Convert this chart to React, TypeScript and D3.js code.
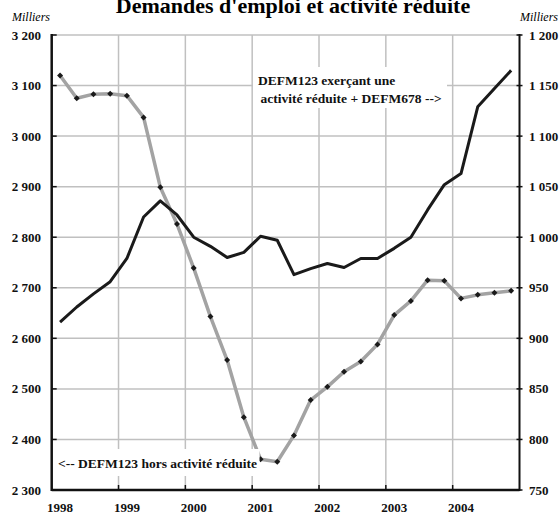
import React, { useEffect, useRef } from 'react';
import * as d3 from 'd3';

// Quarterly categories, 1998 to 2004
const quarters = [
    '1998T1', '1998T2', '1998T3', '1998T4',
    '1999T1', '1999T2', '1999T3', '1999T4',
    '2000T1', '2000T2', '2000T3', '2000T4',
    '2001T1', '2001T2', '2001T3', '2001T4',
    '2002T1', '2002T2', '2002T3', '2002T4',
    '2003T1', '2003T2', '2003T3', '2003T4',
    '2004T1', '2004T2', '2004T3', '2004T4',
];
const yearLabels = ['1998', '1999', '2000', '2001', '2002', '2003', '2004'];

// DEFM123 hors activité réduite (left axis, milliers)
const horsActivite = [
    3120, 3075, 3083, 3084, 3080, 3037, 2899, 2826,
    2739, 2643, 2557, 2444, 2361, 2356, 2408, 2478,
    2504, 2534, 2554, 2588, 2646, 2674, 2715, 2714,
    2679, 2686, 2690, 2694,
];

// DEFM123 exerçant une activité réduite + DEFM678 (right axis, milliers)
const activiteReduite = [
    916, 931, 944, 956, 979, 1020, 1036, 1022,
    1000, 991, 980, 985, 1001, 997, 963, 969,
    974, 970, 979, 979, 989, 1000, 1027, 1052,
    1063, 1129, 1147, 1165,
];

const leftTicks = [2300, 2400, 2500, 2600, 2700, 2800, 2900, 3000, 3100, 3200];
const rightTicks = [750, 800, 850, 900, 950, 1000, 1050, 1100, 1150, 1200];

const W = 559;
const H = 515;
const FONT = '"Liberation Serif", "Times New Roman", serif';

const App = () => {
    const ref = useRef<SVGSVGElement>(null);

    useEffect(() => {
        document.body.style.margin = '0';
        const svg = d3.select(ref.current);
        svg.selectAll('*').remove();

        const left = 51.7, right = 519.5, top = 35, bottom = 490;

        const fmt = d3.formatLocale({ decimal: ',', thousands: ' ', grouping: [3], currency: ['', ' €'] }).format(',d');

        const x = d3.scaleBand().domain(quarters).range([left, right]).paddingInner(0).paddingOuter(0);
        const yL = d3.scaleLinear().domain([2300, 3200]).range([bottom, top]);
        const yR = d3.scaleLinear().domain([750, 1200]).range([bottom, top]);

        // title (partly cut off at the top, as in the source)
        svg.append('text')
            .attr('x', 293).attr('y', 13)
            .attr('text-anchor', 'middle')
            .style('font-family', FONT).style('font-weight', 'bold').style('font-size', '22px')
            .text("Demandes d'emploi et activité réduite");

        svg.append('text')
            .attr('x', 12).attr('y', 21)
            .style('font-family', FONT).style('font-style', 'italic').style('font-size', '12px')
            .text('Milliers');
        svg.append('text')
            .attr('x', 520).attr('y', 21)
            .style('font-family', FONT).style('font-style', 'italic').style('font-size', '12px')
            .text('Milliers');

        // grid
        const grid = svg.append('g').attr('stroke', '#c0c0c0').attr('stroke-width', 1.5);
        grid.selectAll('line.h')
            .data(leftTicks.slice(1))
            .enter().append('line')
            .attr('x1', left).attr('x2', right)
            .attr('y1', d => yL(d)).attr('y2', d => yL(d));
        grid.selectAll('line.v')
            .data(yearLabels.slice(1))
            .enter().append('line')
            .attr('x1', d => x(d + 'T1')).attr('x2', d => x(d + 'T1'))
            .attr('y1', top).attr('y2', bottom);

        // series
        const lineL = d3.line<number>()
            .x((d, i) => x(quarters[i]) + x.bandwidth() / 2)
            .y(d => yL(d));
        const lineR = d3.line<number>()
            .x((d, i) => x(quarters[i]) + x.bandwidth() / 2)
            .y(d => yR(d));

        svg.append('path')
            .datum(horsActivite)
            .attr('d', lineL)
            .attr('fill', 'none')
            .attr('stroke', '#a3a3a3')
            .attr('stroke-width', 3.5)
            .attr('stroke-linejoin', 'round');

        svg.append('g').selectAll('path')
            .data(horsActivite)
            .enter().append('path')
            .attr('d', d3.symbol().type(d3.symbolSquare).size(18))
            .attr('transform', (d, i) => `translate(${x(quarters[i]) + x.bandwidth() / 2},${yL(d)}) rotate(45)`)
            .attr('fill', '#1a1a1a');

        svg.append('path')
            .datum(activiteReduite)
            .attr('d', lineR)
            .attr('fill', 'none')
            .attr('stroke', '#1a1a1a')
            .attr('stroke-width', 3)
            .attr('stroke-linejoin', 'round');

        // axes
        const axes = svg.append('g').attr('stroke', '#111');
        axes.append('line').attr('x1', left).attr('x2', left).attr('y1', top - 1).attr('y2', bottom + 1).attr('stroke-width', 2.5);
        axes.append('line').attr('x1', right).attr('x2', right).attr('y1', top - 1).attr('y2', bottom + 1).attr('stroke-width', 2);
        axes.append('line').attr('x1', left).attr('x2', right).attr('y1', bottom).attr('y2', bottom).attr('stroke-width', 2.5);

        axes.selectAll('line.lt')
            .data(leftTicks)
            .enter().append('line')
            .attr('x1', left).attr('x2', left + 5)
            .attr('y1', d => yL(d)).attr('y2', d => yL(d))
            .attr('stroke-width', 1.5);
        axes.selectAll('line.rt')
            .data(rightTicks)
            .enter().append('line')
            .attr('x1', right - 3).attr('x2', right + 3)
            .attr('y1', d => yR(d)).attr('y2', d => yR(d))
            .attr('stroke-width', 1.5);
        axes.selectAll('line.bt')
            .data(yearLabels.slice(1))
            .enter().append('line')
            .attr('x1', d => x(d + 'T1')).attr('x2', d => x(d + 'T1'))
            .attr('y1', bottom - 5).attr('y2', bottom)
            .attr('stroke-width', 1.5);

        const tickText = (sel) => sel
            .style('font-family', FONT).style('font-weight', 'bold').style('font-size', '13px')
            .attr('fill', '#111');

        svg.append('g').selectAll('text')
            .data(leftTicks)
            .enter().append('text')
            .attr('x', 41).attr('y', d => yL(d) + 4.5)
            .attr('text-anchor', 'end')
            .text(d => fmt(d))
            .call(tickText);

        svg.append('g').selectAll('text')
            .data(rightTicks)
            .enter().append('text')
            .attr('x', 529).attr('y', d => yR(d) + 4.5)
            .text(d => fmt(d))
            .call(tickText);

        svg.append('g').selectAll('text')
            .data(yearLabels)
            .enter().append('text')
            .attr('x', d => x(d + 'T1') + x.bandwidth() / 2)
            .attr('y', 511.5)
            .attr('text-anchor', 'middle')
            .text(d => d)
            .call(tickText);

        // annotations
        svg.append('rect').attr('x', 253).attr('y', 67).attr('width', 194).attr('height', 41).attr('fill', '#fff');
        const ann = svg.append('text')
            .style('font-family', FONT).style('font-weight', 'bold').style('font-size', '13.5px')
            .attr('fill', '#111');
        ann.append('tspan').attr('x', 258).attr('y', 84.5).text('DEFM123 exerçant une');
        ann.append('tspan').attr('x', 260.5).attr('y', 103).text('activité réduite + DEFM678 -->');

        svg.append('rect').attr('x', 53.5).attr('y', 449).attr('width', 206).attr('height', 27).attr('fill', '#fff');
        svg.append('text')
            .attr('x', 58).attr('y', 467.5)
            .style('font-family', FONT).style('font-weight', 'bold').style('font-size', '13.5px')
            .attr('fill', '#111')
            .text('<-- DEFM123 hors activité réduite');
    }, []);

    return (
        <svg ref={ref} width={W} height={H} style={{ display: 'block', background: '#fff' }}></svg>
    );
};

export default App;
